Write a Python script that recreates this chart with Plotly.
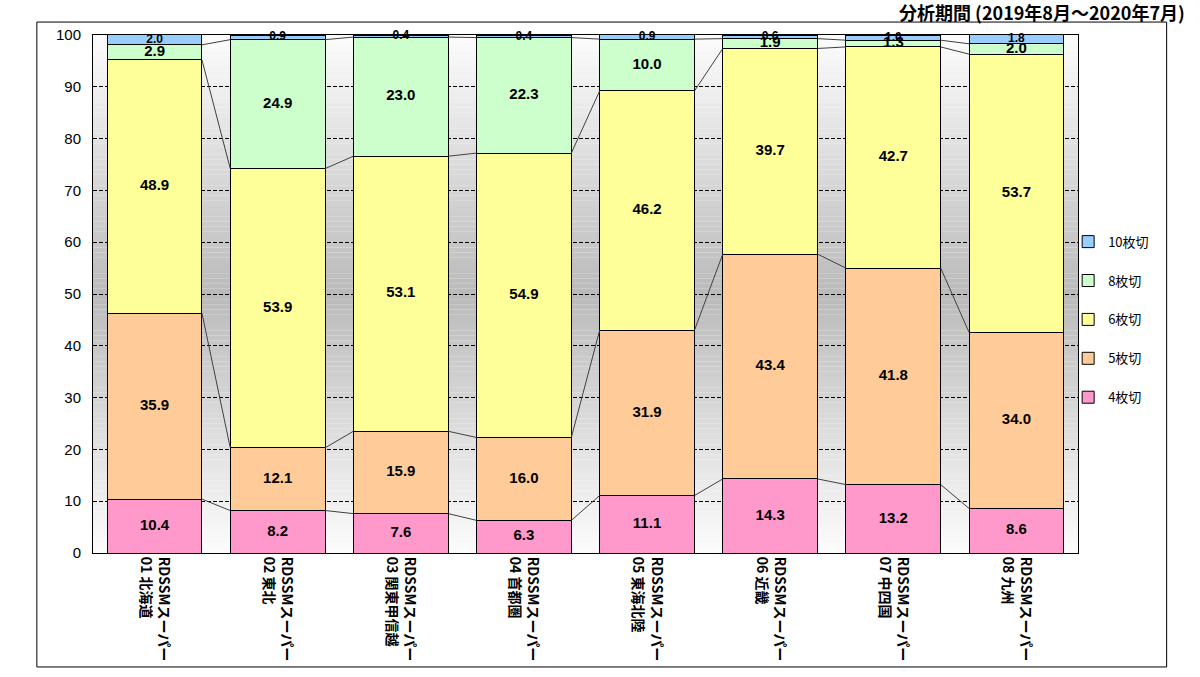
import plotly.graph_objects as go

# categories (two-line rotated labels)
regions = ["01 北海道", "02 東北", "03 関東甲信越", "04 首都圏",
           "05 東海北陸", "06 近畿", "07 中四国", "08 九州"]
cat_labels = ["RDSSMスーパー<br>" + r for r in regions]

# share (%) per slice type, bottom to top
s4 = [10.4, 8.2, 7.6, 6.3, 11.1, 14.3, 13.2, 8.6]
s5 = [35.9, 12.1, 15.9, 16.0, 31.9, 43.4, 41.8, 34.0]
s6 = [48.9, 53.9, 53.1, 54.9, 46.2, 39.7, 42.7, 53.7]
s8 = [2.9, 24.9, 23.0, 22.3, 10.0, 1.9, 1.3, 2.0]
s10 = [2.0, 0.9, 0.4, 0.4, 0.9, 0.6, 1.0, 1.8]

series = [("4枚切", s4, "#FF99CC"), ("5枚切", s5, "#FFCC99"), ("6枚切", s6, "#FFFF99"),
          ("8枚切", s8, "#CCFFCC"), ("10枚切", s10, "#99CCFF")]

x = list(range(len(regions)))
bw = 0.77
fig = go.Figure()

base = [0.0] * len(x)
levels = []
for i, (name, vals, col) in enumerate(series):
    fig.add_trace(go.Bar(x=x, y=vals, name=name, width=bw, legendgroup=name, legendrank=10 - i,
                         marker=dict(color=col, line=dict(color="black", width=1))))
    mids = [b + v / 2 for b, v in zip(base, vals)]
    fs = 12 if name == "10枚切" else 15
    fig.add_trace(go.Scatter(x=x, y=mids, mode="text", text=[f"{v:.1f}" for v in vals],
                             textfont=dict(size=fs, color="black", family="Liberation Sans",
                                           weight="bold"),
                             showlegend=False, hoverinfo="skip", cliponaxis=False))
    base = [b + v for b, v in zip(base, vals)]
    if name != "10枚切":
        levels.append(list(base))

# series lines between bars
for lv in levels:
    lx, ly = [], []
    for i in range(len(x) - 1):
        lx += [x[i] + bw / 2, x[i + 1] - bw / 2, None]
        ly += [lv[i], lv[i + 1], None]
    fig.add_trace(go.Scatter(x=lx, y=ly, mode="lines", line=dict(color="#404040", width=1),
                             showlegend=False, hoverinfo="skip"))

# gradient plot background (white - gray - white)
shapes = []
for k in range(100):
    t = 1 - abs(k + 0.5 - 50) / 50
    g = int(round(252 - (252 - 186) * t))
    shapes.append(dict(type="rect", xref="paper", yref="y", x0=0, x1=1, y0=k, y1=k + 1,
                       fillcolor=f"rgb({g},{g},{g})", line=dict(width=0), layer="below"))
# outer frame
shapes.append(dict(type="rect", xref="paper", yref="paper", x0=-0.057, x1=1.09,
                   y0=-0.22, y1=1.025, line=dict(color="black", width=1), layer="above"))

fig.update_layout(
    width=1200, height=677,
    barmode="stack",
    paper_bgcolor="white", plot_bgcolor="white",
    margin=dict(l=93, r=122, t=35, b=124),
    shapes=shapes,
    showlegend=True,
    legend=dict(x=0.99, y=0.63, xanchor="left", yanchor="top",
                traceorder="grouped", tracegroupgap=19,
                font=dict(size=13, color="black", family="Noto Sans CJK JP"),
                bgcolor="rgba(0,0,0,0)", itemwidth=30),
    annotations=[dict(text="<b>分析期間 (2019年8月～2020年7月)</b>", xref="paper", yref="paper",
                      x=1.111, y=1.045, xanchor="right", yanchor="middle", showarrow=False,
                      font=dict(size=18, color="black", family="Noto Sans CJK JP"))],
    font=dict(family="Noto Sans CJK JP", color="black"),
)
fig.update_xaxes(range=[-0.5, 7.5], tickvals=x, ticktext=cat_labels, tickangle=90,
                 tickfont=dict(size=14, color="black", family="Noto Sans CJK JP", weight="bold"),
                 showgrid=False, showline=True, linecolor="black", linewidth=1, mirror=True,
                 ticks="", zeroline=False)
fig.update_yaxes(range=[0, 100], dtick=10, showgrid=True, gridcolor="black", griddash="4px,2px",
                 gridwidth=1, showline=True, linecolor="black", linewidth=1, mirror=True,
                 ticks="", zeroline=False, ticklabelstandoff=8,
                 tickfont=dict(size=15, color="black", family="Liberation Sans"))

# drop the browser's default body margin so the figure fills the window
fig.write_html("out.html", config={"displayModeBar": False},
               post_script="document.body.style.margin='0';")
